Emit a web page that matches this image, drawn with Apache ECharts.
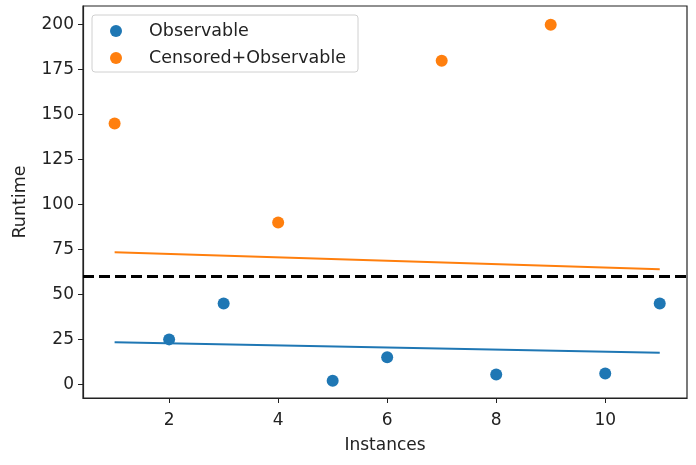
<!DOCTYPE html>
<html><head><meta charset="utf-8">
<script src="https://cdn.jsdelivr.net/npm/echarts@6/dist/echarts.min.js"></script>
<style>html,body{margin:0;padding:0;background:#fff}#c{width:696px;height:465px}</style>
</head><body><div id="c"></div>
<script>
const obsX = [2, 3, 5, 6, 8, 10, 11];
const obsY = [25, 45, 2, 15, 5.5, 6, 45];
const cenX = [1, 4, 7, 9];
const cenY = [145, 90, 180, 200];
const obsFitX = [1, 11];
const obsFitY = [23.4, 17.6];
const cenFitX = [1, 11];
const cenFitY = [73.5, 64.0];
const threshold = 60;
const xTicks = [2, 4, 6, 8, 10];
const yTicks = [0, 25, 50, 75, 100, 125, 150, 175, 200];
const BLUE = '#1f77b4', ORANGE = '#ff7f0e';
const FONT = 'DejaVu Sans';
const pairs = (xs, ys) => xs.map((x, i) => [x, ys[i]]);

const chart = echarts.init(document.getElementById('c'), null, {renderer: 'canvas'});
chart.setOption({
  animation: false,
  textStyle: {fontFamily: FONT, color: '#222'},
  grid: {left: 83, right: 9, top: 6, bottom: 67, show: true, borderColor: '#222', borderWidth: 1.2},
  legend: {
    orient: 'vertical', left: 92, top: 15,
    data: ['Observable', 'Censored+Observable'],
    icon: 'circle', itemWidth: 12, itemHeight: 12, itemGap: 9,
    textStyle: {fontFamily: FONT, fontSize: 17.5, color: '#222', padding: [0, 0, 0, 22]},
    borderColor: '#d0d0d0', borderWidth: 1, borderRadius: 3,
    padding: [7, 12, 5, 18], backgroundColor: '#fff'
  },
  xAxis: {
    type: 'value', min: 0.42, max: 11.5,
    name: 'Instances', nameLocation: 'middle', nameGap: 39,
    nameTextStyle: {fontFamily: FONT, fontSize: 17, color: '#222'},
    splitLine: {show: false},
    axisLine: {show: true, onZero: false, lineStyle: {color: '#222', width: 1.2}},
    axisTick: {show: true, inside: false, length: 5, customValues: xTicks, lineStyle: {color: '#222'}},
    axisLabel: {fontFamily: FONT, fontSize: 17, color: '#222', margin: 14, customValues: xTicks}
  },
  yAxis: {
    type: 'value', min: -7.6, max: 210.4,
    name: 'Runtime', nameLocation: 'middle', nameGap: 54, nameRotate: 90,
    nameTextStyle: {fontFamily: FONT, fontSize: 17.5, color: '#222'},
    splitLine: {show: false},
    axisLine: {show: true, onZero: false, lineStyle: {color: '#222', width: 1.2}},
    axisTick: {show: true, inside: false, length: 5, customValues: yTicks, lineStyle: {color: '#222'}},
    axisLabel: {fontFamily: FONT, fontSize: 17, color: '#222', margin: 9, customValues: yTicks}
  },
  series: [
    {name: 'Observable', type: 'scatter', data: pairs(obsX, obsY), symbolSize: 12, itemStyle: {color: BLUE, opacity: 1}, z: 3},
    {name: 'Censored+Observable', type: 'scatter', data: pairs(cenX, cenY), symbolSize: 12, itemStyle: {color: ORANGE, opacity: 1}, z: 3},
    {name: 'obsFit', type: 'line', data: pairs(obsFitX, obsFitY), showSymbol: false, symbol: 'none', lineStyle: {color: BLUE, width: 2}, z: 2},
    {name: 'cenFit', type: 'line', data: pairs(cenFitX, cenFitY), showSymbol: false, symbol: 'none', lineStyle: {color: ORANGE, width: 2}, z: 2,
      markLine: {silent: true, symbol: ['none', 'none'], label: {show: false},
        lineStyle: {color: '#000', type: [11, 5], width: 3},
        data: [{yAxis: threshold}]}}
  ]
});
</script></body></html>
